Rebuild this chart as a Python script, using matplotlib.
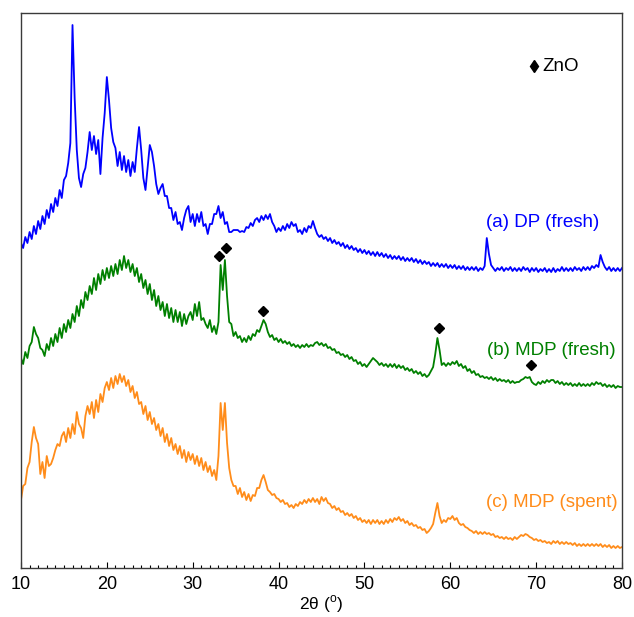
from matplotlib import pyplot as plt
from matplotlib.ticker import MultipleLocator
import numpy as np

plt.rcParams['font.family'] = ['Liberation Sans', 'DejaVu Sans']

# 2theta grid, step 0.25 deg
two_theta = np.arange(10, 80.001, 0.25)

# intensities (a.u., already stacked)
dp_fresh = [
    325, 320, 331, 325, 336, 329, 342, 334,
    347, 339, 352, 344, 358, 350, 364, 356,
    370, 362, 378, 370, 388, 392, 405, 425,
    543, 470, 418, 390, 381, 394, 400, 416,
    436, 418, 432, 414, 428, 394, 430, 455,
    491, 468, 440, 426, 420, 402, 416, 398,
    412, 396, 408, 392, 406, 396, 420, 441,
    418, 390, 378, 400, 423, 416, 402, 384,
    374, 380, 384, 372, 372, 360, 360, 348,
    356, 344, 346, 338, 350, 358, 362, 346,
    354, 342, 354, 346, 356, 342, 344, 334,
    344, 344, 354, 354, 362, 350, 356, 344,
    346, 336, 336, 338, 338, 338, 336, 337,
    336, 341, 340, 345, 342, 348, 350, 346,
    352, 348, 353, 349, 354, 346, 342, 336,
    340, 337, 342, 338, 344, 340, 346, 342,
    344, 336, 338, 334, 340, 336, 342, 340,
    347, 340, 334, 331, 333, 329, 331, 327,
    330, 325, 328, 324, 326, 322, 325, 320,
    323, 319, 322, 318, 320, 316, 319, 315,
    318, 314, 317, 313, 316, 312, 316, 312,
    315, 311, 314, 310, 313, 309, 312, 309,
    312, 308, 311, 307, 310, 307, 310, 306,
    309, 305, 308, 304, 307, 304, 306, 302,
    305, 302, 305, 301, 304, 301, 304, 300,
    303, 300, 303, 299, 302, 299, 302, 298,
    301, 298, 301, 298, 301, 297, 300, 298,
    302, 330, 314, 303, 300, 297, 300, 298,
    301, 297, 300, 298, 301, 297, 300, 297,
    300, 297, 301, 298, 300, 296, 300, 297,
    300, 296, 299, 297, 300, 296, 299, 296,
    300, 296, 299, 297, 301, 297, 300, 297,
    300, 297, 301, 298, 300, 297, 301, 298,
    301, 298, 302, 300, 303, 301, 313, 306,
    301, 298, 301, 297, 300, 297, 300, 297,
    300,
]

mdp_fresh = [
    210, 204, 216, 210, 222, 226, 241, 234,
    230, 220, 218, 212, 224, 218, 230, 222,
    234, 226, 240, 230, 244, 236, 248, 240,
    254, 246, 262, 252, 268, 260, 276, 268,
    282, 274, 290, 278, 294, 284, 298, 288,
    300, 290, 302, 292, 304, 294, 308, 298,
    312, 300, 308, 296, 304, 292, 300, 286,
    294, 280, 288, 274, 284, 268, 278, 262,
    272, 258, 266, 252, 264, 250, 260, 246,
    258, 246, 256, 242, 254, 244, 252, 256,
    248, 264, 252, 266, 248, 250, 244, 240,
    248, 236, 242, 234, 246, 303, 278, 308,
    272, 246, 244, 232, 236, 230, 232, 226,
    230, 226, 232, 228, 234, 232, 238, 236,
    242, 248, 244, 236, 231, 233, 228, 230,
    226, 229, 225, 227, 224, 226, 222, 224,
    221, 223, 220, 223, 221, 224, 221, 223,
    222, 225, 226, 223, 225, 222, 224, 220,
    221, 218, 219, 215, 216, 213, 214, 211,
    213, 209, 211, 207, 208, 204, 206, 202,
    204, 201, 204, 207, 210, 208, 206, 203,
    205, 202, 204, 201, 204, 201, 204, 200,
    203, 200, 202, 198, 200, 197, 199, 195,
    197, 194, 196, 192, 194, 191, 193, 197,
    201, 214, 230, 218, 203, 205, 202, 205,
    203, 206, 204, 207, 202, 204, 200, 202,
    197, 199, 195, 197, 193, 194, 191, 192,
    190, 191, 189, 191, 188, 190, 187, 189,
    187, 188, 186, 188, 185, 187, 185, 186,
    186, 188, 189, 191, 190, 191, 186, 184,
    183, 186, 184, 187, 185, 188, 186, 188,
    188, 185, 187, 184, 186, 183, 185, 183,
    185, 182, 184, 182, 185, 182, 184, 182,
    184, 182, 185, 183, 186, 184, 185, 182,
    184, 181, 183, 181, 183, 180, 182, 181,
    181,
]

mdp_spent = [
    68, 82, 84, 100, 106, 126, 141, 130,
    124, 94, 106, 90, 112, 102, 104, 110,
    118, 124, 122, 132, 136, 126, 140, 130,
    144, 134, 156, 144, 140, 130, 152, 162,
    154, 166, 150, 168, 156, 174, 166, 180,
    186, 178, 190, 180, 192, 184, 194, 186,
    192, 182, 188, 176, 182, 170, 176, 164,
    166, 154, 162, 148, 156, 144, 150, 138,
    144, 132, 140, 126, 134, 122, 130, 118,
    124, 114, 122, 110, 118, 106, 116, 108,
    114, 104, 112, 102, 110, 98, 106, 96,
    102, 92, 98, 88, 112, 165, 138, 165,
    125, 100, 88, 82, 82, 74, 80, 71,
    76, 68, 74, 67, 73, 72, 80, 80,
    88, 93, 86, 78, 76, 73, 74, 70,
    69, 66, 68, 64, 65, 61, 63, 60,
    64, 62, 66, 64, 68, 65, 69, 66,
    70, 66, 69, 64, 71, 67, 70, 65,
    64, 60, 62, 58, 60, 56, 57, 53,
    55, 52, 54, 50, 52, 48, 50, 46,
    48, 45, 48, 44, 48, 45, 48, 44,
    47, 44, 48, 45, 49, 46, 50, 48,
    51, 47, 49, 45, 47, 43, 45, 42,
    43, 40, 41, 38, 39, 35, 37, 40,
    44, 55, 65, 52, 45, 48, 46, 50,
    49, 52, 48, 50, 45, 43, 44, 41,
    40, 38, 37, 35, 37, 34, 36, 34,
    36, 34, 35, 33, 34, 31, 32, 30,
    31, 29, 31, 29, 30, 28, 31, 29,
    31, 33, 32, 34, 33, 31, 30, 28,
    29, 27, 28, 26, 27, 25, 26, 24,
    27, 25, 27, 24, 26, 24, 26, 24,
    25, 23, 25, 22, 24, 22, 24, 22,
    24, 22, 24, 22, 24, 22, 24, 21,
    23, 21, 23, 20, 22, 20, 22, 20,
    21,
]

# ZnO reflections marked on the fresh MDP pattern
zno_x = [33.05, 33.9, 38.2, 58.7, 69.45]
zno_y = [312, 320, 257, 240, 203]

labels = ['(a) DP (fresh)', '(b) MDP (fresh)', '(c) MDP (spent)']
colors = ['#0000FF', '#008000', '#FF8C1A']
label_x = [77.4, 79.3, 79.5]
label_y = [346, 218, 66]

fig = plt.figure(figsize=(6.34, 6.17), dpi=100)
ax = fig.add_axes([0.0331, 0.0794, 0.948, 0.8995])

for y, c in zip([dp_fresh, mdp_fresh, mdp_spent], colors):
    ax.plot(two_theta, y, color=c, lw=1.3)

ax.plot(zno_x, zno_y, 'D', color='black', ms=5.5, ls='none')

for t, c, lx, ly in zip(labels, colors, label_x, label_y):
    ax.text(lx, ly, t, color=c, fontsize=13.5, ha='right', va='center')

# ZnO key
ax.plot([69.8], [502], 'd', color='black', ms=6.5)
ax.text(70.7, 502, 'ZnO', fontsize=13.5, ha='left', va='center')

ax.set_xlim(10, 80)
ax.set_ylim(0, 555)
ax.set_yticks([])
ax.xaxis.set_major_locator(MultipleLocator(10))
ax.xaxis.set_minor_locator(MultipleLocator(1))
ax.tick_params(axis='x', which='major', direction='in', length=4.3, width=0.8,
               labelsize=13, pad=6)
ax.tick_params(axis='x', which='minor', direction='in', length=2.2, width=0.8)
ax.set_xlabel('2θ ($^\\mathregular{o}$)', fontsize=12.5, labelpad=0)
for s in ax.spines.values():
    s.set_color('#3a3a3a')
    s.set_linewidth(1.0)

plt.savefig('out.png', dpi=100)
